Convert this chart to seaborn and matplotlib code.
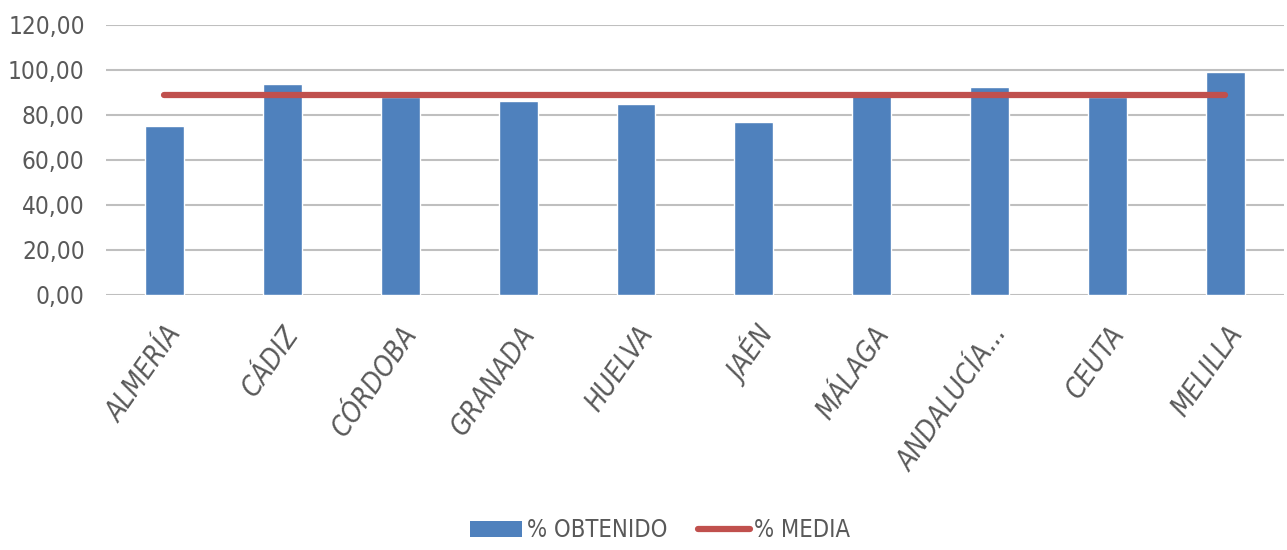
import numpy as np
import pandas as pd
import matplotlib
matplotlib.use("Agg")
import matplotlib.pyplot as plt
from matplotlib.patches import Patch
from matplotlib.lines import Line2D
import seaborn as sns

# Data
provincias = ["ALMERÍA", "CÁDIZ", "CÓRDOBA", "GRANADA", "HUELVA", "JAÉN",
              "MÁLAGA", "ANDALUCÍA...", "CEUTA", "MELILLA"]
obtenido = [75.2, 93.8, 88.0, 86.3, 84.7, 76.9, 89.0, 92.3, 88.0, 99.2]
media = [88.7] * len(provincias)
yticks = [0, 20, 40, 60, 80, 100, 120]

df = pd.DataFrame({"provincia": provincias, "obtenido": obtenido})

sns.set_theme(style="white")
plt.rcParams["font.family"] = ["DejaVu Sans"]
plt.rcParams["font.stretch"] = "condensed"

blue = "#4F81BD"
red = "#C0504D"
grey_txt = "#595959"

fig = plt.figure(figsize=(12.87, 5.5), dpi=100)
ax = fig.add_axes([0.082, 0.464, 0.916, 0.491])

sns.barplot(data=df, x="provincia", y="obtenido", color=blue, width=0.33,
            saturation=1, ax=ax, zorder=2)
ax.plot(np.arange(len(provincias)), media, color=red, lw=4.5,
        solid_capstyle="round", zorder=3)

ax.set_ylim(0, 120)
ax.set_xlim(-0.5, len(provincias) - 0.5)
ax.set_yticks(yticks)
ax.set_yticklabels([f"{v:.2f}".replace(".", ",") for v in yticks],
                   fontsize=17.5, color=grey_txt)
ax.yaxis.grid(True, color="#BFBFBF", lw=1.5, zorder=0)
ax.set_axisbelow(True)
for s in ax.spines.values():
    s.set_visible(False)
ax.tick_params(axis="y", length=0, pad=15)
ax.tick_params(axis="x", length=0, pad=19)
ax.set_xlabel("")
ax.set_ylabel("")
ax.set_xticks(np.arange(len(provincias)))
ax.set_xticklabels(provincias, rotation=55, ha="right", rotation_mode="anchor",
                   fontsize=20, color=grey_txt, fontstyle="oblique")

handles = [Patch(facecolor=blue, edgecolor="none", label="% OBTENIDO"),
           Line2D([0], [0], color=red, lw=4.5, solid_capstyle="round", label="% MEDIA")]
fig.legend(handles=handles, loc="center", bbox_to_anchor=(0.513, 0.036), ncol=2,
           frameon=False, fontsize=17, labelcolor=grey_txt, handlelength=2.2,
           handletextpad=0.2, columnspacing=1.3)

fig.savefig("out.png", dpi=100)
